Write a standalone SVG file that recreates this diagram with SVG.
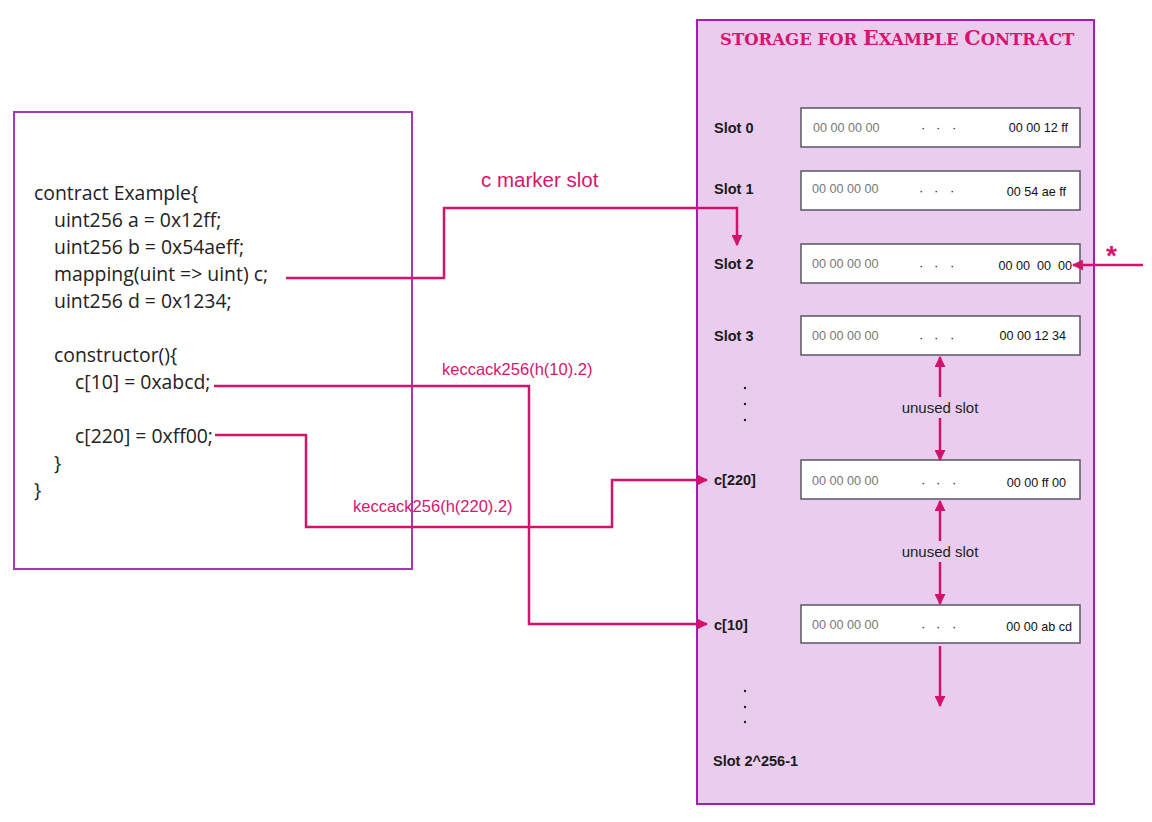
<svg xmlns="http://www.w3.org/2000/svg" width="1152" height="822" viewBox="0 0 1152 822">
<defs>
<style>
.code{font-family:"Open Sans","Noto Sans",sans-serif;font-size:19.4px;fill:#222}
.frame{fill:none;stroke:#a23ab5;stroke-width:2}
.store{fill:#eacdee;stroke:#a020b0;stroke-width:2}
.slot{fill:#fff;stroke:#5a5560;stroke-width:1.5}
.lbl{font-family:"Liberation Sans",Arial,sans-serif;font-size:14.5px;font-weight:bold;fill:#1a1a1a}
.zero{font-family:"Liberation Sans",Arial,sans-serif;font-size:12.6px;fill:#777}
.val{font-family:"Liberation Sans",Arial,sans-serif;font-size:12.6px;fill:#111;text-anchor:end}
.dots{font-family:"Liberation Sans",Arial,sans-serif;font-size:13px;fill:#111}
.unused{font-family:"Liberation Sans",Arial,sans-serif;font-size:15px;fill:#222;text-anchor:middle}
.pinklbl{font-family:"Liberation Sans",Arial,sans-serif;fill:#d6156e}
.conn{fill:none;stroke:#d4116b;stroke-width:2.5;stroke-linejoin:miter}
.title{font-family:"DejaVu Serif","Liberation Serif",serif;fill:#d6156e;font-weight:bold}
</style>
<marker id="ah" viewBox="0 0 10 10" refX="9" refY="5" markerWidth="4.4" markerHeight="4.4" orient="auto-start-reverse" markerUnits="strokeWidth">
<path d="M0,0 L10,5 L0,10 Z" fill="#d4116b"/>
</marker>
</defs>

<g id="contract-node">
<rect class="frame" x="14" y="112" width="398" height="457"/>
<text class="code" x="34" y="200">contract Example{</text>
<text class="code" x="54" y="227">uint256 a = 0x12ff;</text>
<text class="code" x="54" y="254">uint256 b = 0x54aeff;</text>
<text class="code" x="54" y="281">mapping(uint =&gt; uint) c;</text>
<text class="code" x="54" y="308">uint256 d = 0x1234;</text>
<text class="code" x="54" y="362">constructor(){</text>
<text class="code" x="75" y="389">c[10] = 0xabcd;</text>
<text class="code" x="75" y="443">c[220] = 0xff00;</text>
<text class="code" x="54" y="470">}</text>
<text class="code" x="34" y="497">}</text>
</g>

<g id="storage-node">
<rect class="store" x="697" y="20" width="397" height="784"/>
<text class="title" x="720" y="45"><tspan font-size="16.5">STORAGE FOR </tspan><tspan font-size="20.5">E</tspan><tspan font-size="16.5">XAMPLE </tspan><tspan font-size="20.5">C</tspan><tspan font-size="16.5">ONTRACT</tspan></text>
</g>

<g id="slot0">
<text class="lbl" x="714" y="133">Slot 0</text>
<rect class="slot" x="801" y="108" width="279" height="39"/>
<text class="zero" x="813" y="132">00 00 00 00</text>
<text class="dots" x="921 936 952" y="132">···</text>
<text class="val" x="1068" y="132">00 00 12 ff</text>
</g>
<g id="slot1">
<text class="lbl" x="714" y="194">Slot 1</text>
<rect class="slot" x="801" y="171" width="279" height="39"/>
<text class="zero" x="812" y="193">00 00 00 00</text>
<text class="dots" x="919 934 950" y="195">···</text>
<text class="val" x="1066" y="196">00 54 ae ff</text>
</g>
<g id="slot2">
<text class="lbl" x="714" y="269">Slot 2</text>
<rect class="slot" x="801" y="244" width="279" height="39"/>
<text class="zero" x="812" y="268">00 00 00 00</text>
<text class="dots" x="919 934 950" y="270">···</text>
<text class="val" x="1072" y="270" xml:space="preserve">00 00  00  00</text>
</g>
<g id="slot3">
<text class="lbl" x="714" y="341">Slot 3</text>
<rect class="slot" x="801" y="316" width="279" height="39"/>
<text class="zero" x="812" y="340">00 00 00 00</text>
<text class="dots" x="919 934 950" y="342">···</text>
<text class="val" x="1066" y="340">00 00 12 34</text>
</g>
<g id="gap1">
<circle cx="745" cy="388" r="1.2" fill="#222"/>
<circle cx="745" cy="404" r="1.2" fill="#222"/>
<circle cx="745" cy="420" r="1.2" fill="#222"/>
</g>
<g id="c220">
<text class="lbl" x="714" y="485">c[220]</text>
<rect class="slot" x="801" y="460" width="279" height="39"/>
<text class="zero" x="812" y="485">00 00 00 00</text>
<text class="dots" x="921 936 952" y="487">···</text>
<text class="val" x="1066" y="487">00 00 ff 00</text>
</g>
<g id="c10">
<text class="lbl" x="714" y="630">c[10]</text>
<rect class="slot" x="801" y="605" width="279" height="38"/>
<text class="zero" x="812" y="629">00 00 00 00</text>
<text class="dots" x="921 936 952" y="631">···</text>
<text class="val" x="1072" y="631">00 00 ab cd</text>
</g>
<g id="gap2">
<circle cx="745" cy="691" r="1.2" fill="#222"/>
<circle cx="745" cy="707" r="1.2" fill="#222"/>
<circle cx="745" cy="722" r="1.2" fill="#222"/>
</g>
<g id="slotlast">
<text class="lbl" x="713" y="766">Slot 2^256-1</text>
</g>

<g id="connectors">
<polyline class="conn" points="286,278 444,278 444,208 737,208 737,245" marker-end="url(#ah)"/>
<polyline class="conn" points="214,386 529,386 529,624 707,624" marker-end="url(#ah)"/>
<polyline class="conn" points="215,435 306,435 306,527 612,527 612,480 707,480" marker-end="url(#ah)"/>
<line class="conn" x1="1143" y1="265" x2="1073" y2="265" marker-end="url(#ah)"/>
<line class="conn" x1="940" y1="357" x2="940" y2="397" marker-start="url(#ah)"/>
<line class="conn" x1="940" y1="418" x2="940" y2="460" marker-end="url(#ah)"/>
<line class="conn" x1="940" y1="501" x2="940" y2="541" marker-start="url(#ah)"/>
<line class="conn" x1="940" y1="562" x2="940" y2="604" marker-end="url(#ah)"/>
<line class="conn" x1="940" y1="646" x2="940" y2="706" marker-end="url(#ah)"/>
<text class="unused" x="940" y="413">unused slot</text>
<text class="unused" x="940" y="557">unused slot</text>
<text class="pinklbl" x="481" y="187" font-size="20.5">c marker slot</text>
<text class="pinklbl" x="442" y="375" font-size="16.5">keccack256(h(10).2)</text>
<text class="pinklbl" x="353" y="512" font-size="16.5">keccack256(h(220).2)</text>
<text class="pinklbl" x="1106" y="265" font-size="28" font-weight="bold">*</text>
</g>
</svg>
